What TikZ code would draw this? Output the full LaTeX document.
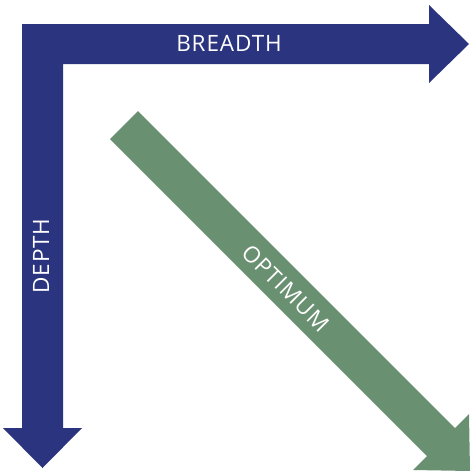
\documentclass[tikz,border=0pt]{standalone}
\usepackage{fontspec}
\setmainfont{Open Sans}
\definecolor{navy}{RGB}{43,52,126}
\definecolor{sage}{RGB}{106,144,114}
\tikzset{
  lbl/.style={text=white, font=\fontsize{22.5}{26}\selectfont\addfontfeature{LetterSpace=4}, inner sep=0pt, anchor=center}
}
\begin{document}
\begin{tikzpicture}[x=1pt,y=-1pt]
\useasboundingbox (0,0) rectangle (474,474);
% blue L-shaped double arrow
\fill[navy] (469,44) -- (429,83) -- (429,64) -- (63,64) -- (63,428) -- (82,428)
  -- (42.5,468) -- (3,428) -- (22,428) -- (22,24) -- (429,24) -- (429,5) -- cycle;
% green diagonal arrow
\fill[sage] (138,111) -- (455,428) -- (469,414) -- (470,471) -- (413,470)
  -- (427,456) -- (110,139) -- cycle;
\node[lbl] (breadth) at (229,43) {BREADTH};
\node[lbl, rotate=90] (depth) at (41,256) {DEPTH};
\node[lbl, rotate=-45] (optimum) at (286,288) {OPTIMUM};
\end{tikzpicture}
\end{document}
